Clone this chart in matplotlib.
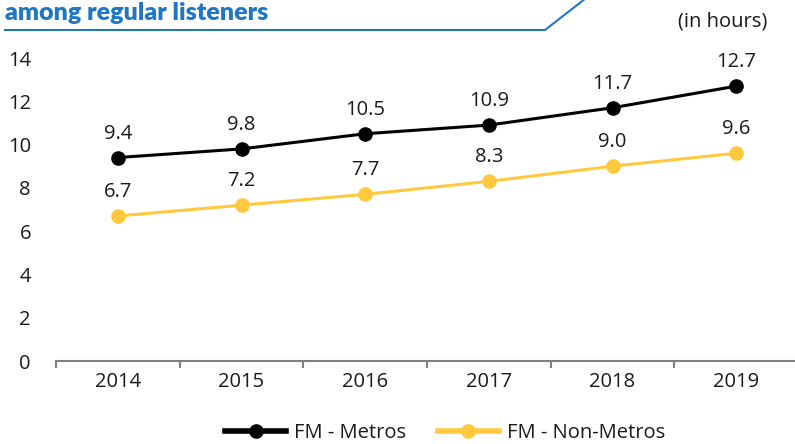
import matplotlib
matplotlib.use("Agg")
import matplotlib.pyplot as plt
from matplotlib.lines import Line2D

years = ["2014", "2015", "2016", "2017", "2018", "2019"]
metros = [9.4, 9.8, 10.5, 10.9, 11.7, 12.7]
non_metros = [6.7, 7.2, 7.7, 8.3, 9.0, 9.6]
yticks = [0, 2, 4, 6, 8, 10, 12, 14]

W, H = 795, 444
plt.rcParams['font.family'] = ['Open Sans', 'DejaVu Sans']
FS = 14.5

fig = plt.figure(figsize=(W / 100, H / 100), dpi=100)
ax = fig.add_axes([56 / W, 83 / H, 742 / W, 303 / H])

x = list(range(len(years)))
black = "#000000"
yellow = "#FFC83D"

ax.plot(x, metros, color=black, lw=2.2, marker="o", ms=9.5, label="FM - Metros", zorder=3)
ax.plot(x, non_metros, color=yellow, lw=2.2, marker="o", ms=9.5, label="FM - Non-Metros", zorder=3)

for xi, v in zip(x, metros):
    ax.annotate(f"{v:.1f}", (xi, v), xytext=(0, 10), textcoords="offset points",
                ha="center", va="bottom", fontsize=FS, color="#1a1a1a")
for xi, v in zip(x, non_metros):
    ax.annotate(f"{v:.1f}", (xi, v), xytext=(0, 10), textcoords="offset points",
                ha="center", va="bottom", fontsize=FS, color="#1a1a1a")

ax.set_xlim(-0.5, 5.5)
ax.set_ylim(0, 14)
ax.set_yticks(yticks)
ax.set_xticks(x)
ax.set_xticklabels(years)
ax.set_xticks([i - 0.5 for i in range(len(years) + 1)], minor=True)

for s in ["top", "right", "left"]:
    ax.spines[s].set_visible(False)
ax.spines["bottom"].set_color("#7f7f7f")
ax.spines["bottom"].set_linewidth(1.5)
ax.spines["bottom"].set_clip_on(False)

ax.tick_params(axis="y", length=0, pad=18, labelsize=FS, labelcolor="#1a1a1a")
ax.tick_params(axis="x", which="major", length=0, pad=8, labelsize=FS, labelcolor="#1a1a1a")
ax.tick_params(axis="x", which="minor", length=5, width=1.5, color="#7f7f7f", direction="out")

leg = fig.legend(loc="center", bbox_to_anchor=(0.56, 1 - 433 / H), ncol=2, frameon=False,
                 fontsize=FS, handlelength=3.0, handletextpad=0.4, columnspacing=1.6)
for t in leg.get_texts():
    t.set_color("#1a1a1a")
for h in leg.legend_handles:
    h.set_linewidth(4)

# header
fig.text(5 / W, 1 - 20 / H, "among regular listeners", fontsize=18, fontweight="heavy",
         color="#1F77C4", family=["Lato", "DejaVu Sans"], ha="left", va="baseline")
fig.add_artist(Line2D([5 / W, 545 / W, 590 / W], [1 - 30 / H, 1 - 30 / H, 1 + 5 / H],
                      transform=fig.transFigure, color="#1F77C4", lw=1.5))
fig.text(767 / W, 1 - 22 / H, "(in hours)", fontsize=FS, color="#1a1a1a", ha="right", va="center")

fig.savefig("out.png", dpi=100)
